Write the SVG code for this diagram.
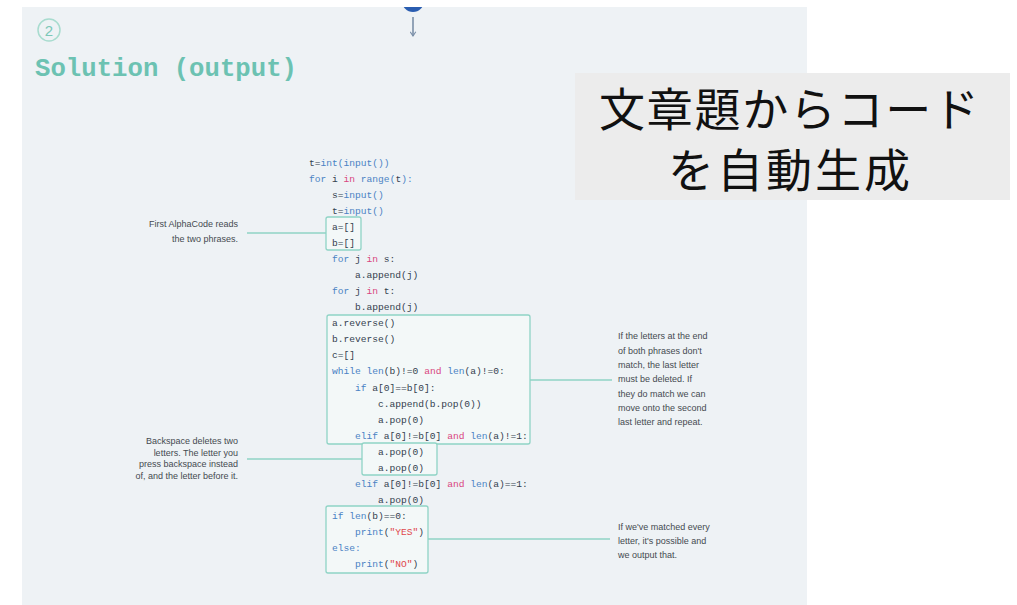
<svg xmlns="http://www.w3.org/2000/svg" width="1017" height="605" viewBox="0 0 1017 605">
<style>
.code{font-family:"Liberation Mono","DejaVu Sans Mono",monospace;font-size:9.6px;fill:#34414f;white-space:pre}
.b{fill:#4a82c4}.p{fill:#d9467f}.r{fill:#e0474c}
.box{fill:#f3f8f8;stroke:#8fd3c5;stroke-width:1.3}
.ann{font-family:"Liberation Sans","Noto Sans",sans-serif;font-size:9px;fill:#454a50}
.conn{stroke:#8fd3c5;stroke-width:1.4;fill:none}
.jp{font-family:"Noto Sans CJK JP","Noto Sans CJK SC",sans-serif;font-size:46px;fill:#111;text-anchor:middle}
</style>
<defs>
<marker id="ah" viewBox="0 0 10 10" refX="9" refY="5" markerWidth="7" markerHeight="7" orient="auto" markerUnits="userSpaceOnUse">
<path d="M3,1 L9,5 L3,9" fill="none" stroke="#7a8fa8" stroke-width="1.6"/>
</marker>
<clipPath id="pc"><rect x="22" y="7" width="785" height="598"/></clipPath>
</defs>
<rect width="1017" height="605" fill="#ffffff"/>
<rect id="panel" x="22" y="7" width="785" height="598" fill="#eef2f5"/>
<g id="top-step" clip-path="url(#pc)">
<circle cx="413" cy="1" r="11" fill="#2a5db0"/>
<line x1="413" y1="17" x2="413" y2="36" stroke="#7a8fa8" stroke-width="1.6" marker-end="url(#ah)"/>
</g>
<g id="header">
<circle cx="49" cy="30" r="11" fill="none" stroke="#a8dccf" stroke-width="1.5"/>
<text x="49" y="35.5" text-anchor="middle" font-family="Liberation Sans, sans-serif" font-size="15" fill="#7cc8b8">2</text>
<text x="35" y="76" font-family="Liberation Mono, DejaVu Sans Mono, monospace" font-size="26" font-weight="bold" fill="#6cc2b2" textLength="262" lengthAdjust="spacingAndGlyphs">Solution (output)</text>
</g>
<g id="boxes">
<rect id="box-ab" class="box" x="326" y="217" width="35" height="33" rx="2"/>
<rect id="box-loop" class="box" x="327" y="315" width="203" height="129" rx="2"/>
<rect id="box-pop" class="box" x="362" y="443" width="75" height="32" rx="2"/>
<rect id="box-out" class="box" x="326" y="506" width="102" height="67" rx="2"/>
</g>
<g id="code" class="code" xml:space="preserve">
<text x="309" y="165.5">t=<tspan class="b">int(input())</tspan></text>
<text x="309" y="181.6"><tspan class="b">for</tspan> i <tspan class="p">in</tspan> <tspan class="b">range(</tspan>t<tspan class="b">):</tspan></text>
<text x="332" y="197.6">s=<tspan class="b">input()</tspan></text>
<text x="332" y="213.7">t=<tspan class="b">input()</tspan></text>
<text x="332" y="229.8">a=[]</text>
<text x="332" y="245.9">b=[]</text>
<text x="332" y="261.9"><tspan class="b">for</tspan> j <tspan class="p">in</tspan> s:</text>
<text x="355" y="278.0">a.append(j)</text>
<text x="332" y="294.1"><tspan class="b">for</tspan> j <tspan class="p">in</tspan> t:</text>
<text x="355" y="310.1">b.append(j)</text>
<text x="332" y="326.2">a.reverse()</text>
<text x="332" y="342.3">b.reverse()</text>
<text x="332" y="358.3">c=[]</text>
<text x="332" y="374.4"><tspan class="b">while len</tspan>(b)!=0 <tspan class="p">and</tspan> <tspan class="b">len</tspan>(a)!=0:</text>
<text x="355" y="390.5"><tspan class="b">if</tspan> a[0]==b[0]:</text>
<text x="378" y="406.5">c.append(b.pop(0))</text>
<text x="378" y="422.6">a.pop(0)</text>
<text x="355" y="438.7"><tspan class="b">elif</tspan> a[0]!=b[0] <tspan class="p">and</tspan> <tspan class="b">len</tspan>(a)!=1:</text>
<text x="378" y="454.8">a.pop(0)</text>
<text x="378" y="470.8">a.pop(0)</text>
<text x="355" y="486.9"><tspan class="b">elif</tspan> a[0]!=b[0] <tspan class="p">and</tspan> <tspan class="b">len</tspan>(a)==1:</text>
<text x="378" y="503.0">a.pop(0)</text>
<text x="332" y="519.0"><tspan class="b">if len</tspan>(b)==0:</text>
<text x="355" y="535.1"><tspan class="b">print</tspan>(<tspan class="r">"YES"</tspan>)</text>
<text x="332" y="551.2"><tspan class="b">else:</tspan></text>
<text x="355" y="567.3"><tspan class="b">print</tspan>(<tspan class="r">"NO"</tspan>)</text>
</g>
<g id="connectors">
<line class="conn" x1="247" y1="233" x2="326" y2="233"/>
<line class="conn" x1="530" y1="380" x2="612" y2="380"/>
<line class="conn" x1="247" y1="459" x2="362" y2="459"/>
<line class="conn" x1="428" y1="539" x2="610" y2="539"/>
</g>
<g id="note-read" class="ann" text-anchor="end">
<text x="238" y="227">First AlphaCode reads</text>
<text x="238" y="242">the two phrases.</text>
</g>
<g id="note-backspace" class="ann" text-anchor="end">
<text x="238" y="444">Backspace deletes two</text>
<text x="238" y="455.5">letters. The letter you</text>
<text x="238" y="467">press backspace instead</text>
<text x="238" y="478.5">of, and the letter before it.</text>
</g>
<g id="note-match" class="ann">
<text x="618" y="339">If the letters at the end</text>
<text x="618" y="353.5">of both phrases don't</text>
<text x="618" y="368">match, the last letter</text>
<text x="618" y="382">must be deleted. If</text>
<text x="618" y="396.5">they do match we can</text>
<text x="618" y="411">move onto the second</text>
<text x="618" y="425">last letter and repeat.</text>
</g>
<g id="note-output" class="ann">
<text x="618" y="530">If we've matched every</text>
<text x="618" y="544">letter, it's possible and</text>
<text x="618" y="558">we output that.</text>
</g>
<g id="caption">
<rect x="575" y="73" width="435" height="127" fill="#ececec"/>
<text class="jp" x="789" y="126" textLength="380" lengthAdjust="spacing">文章題からコード</text>
<text class="jp" x="789" y="187" textLength="242" lengthAdjust="spacing">を自動生成</text>
</g>
</svg>
